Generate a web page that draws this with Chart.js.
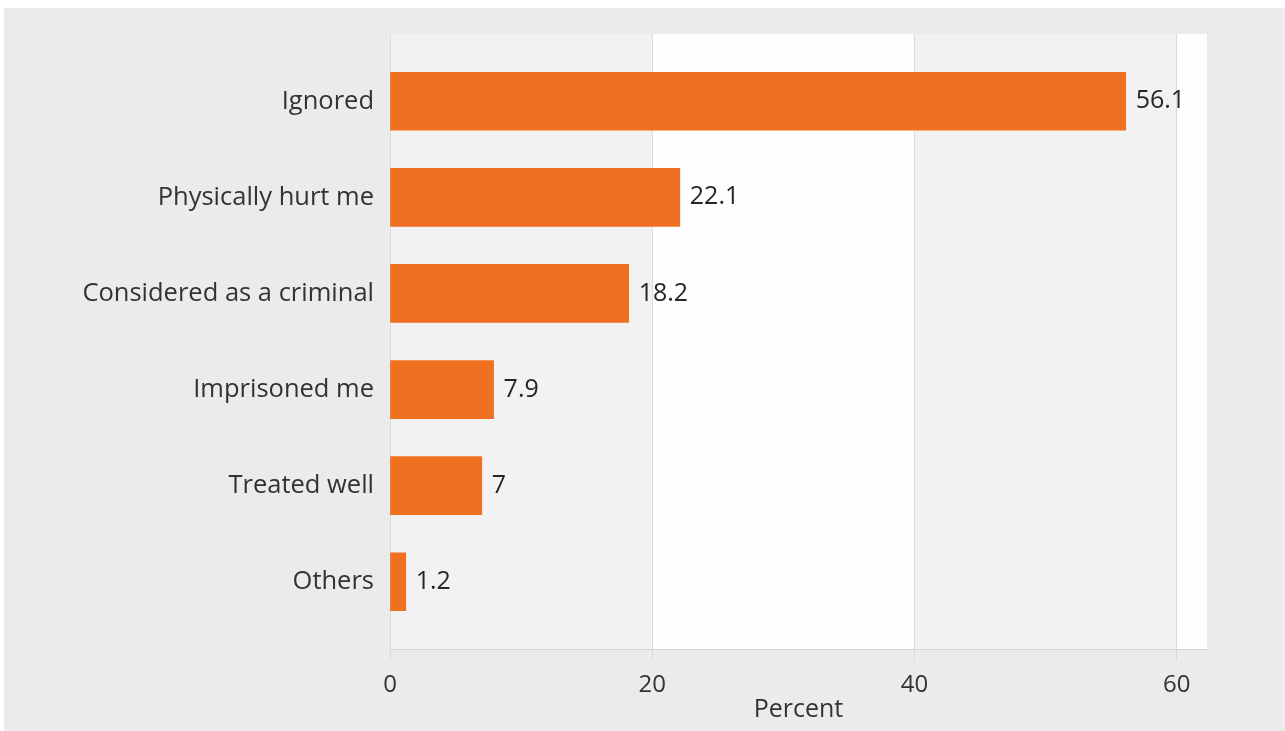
<!DOCTYPE html>
<html>
<head>
<meta charset="utf-8">
<script src="https://cdn.jsdelivr.net/npm/chart.js@4.4.1/dist/chart.umd.min.js"></script>
<style>
  html, body { margin: 0; padding: 0; background: #ffffff; }
  #wrap { position: absolute; left: 4px; top: 8px; width: 1281px; height: 723px; background: #ebebeb; }
  canvas { display: block; }
</style>
</head>
<body>
<div id="wrap"><canvas id="c" width="1281" height="723"></canvas></div>
<script>
const categories = ["Ignored", "Physically hurt me", "Considered as a criminal", "Imprisoned me", "Treated well", "Others"];
const values = [56.1, 22.1, 18.2, 7.9, 7, 1.2];
const xTicks = [0, 20, 40, 60];
const axisTitle = "Percent";

const FONT = "'Open Sans', 'Noto Sans', sans-serif";

const bandsPlugin = {
  id: 'bands',
  beforeDraw(chart) {
    const { ctx, chartArea: a, scales: { x } } = chart;
    const edges = xTicks.concat([x.max]);
    const cols = ['#f2f2f2', '#fefefe'];
    ctx.save();
    for (let i = 0; i < edges.length - 1; i++) {
      const x0 = x.getPixelForValue(edges[i]);
      const x1 = x.getPixelForValue(edges[i + 1]);
      ctx.fillStyle = cols[i % 2];
      ctx.fillRect(x0, a.top, x1 - x0, a.bottom - a.top);
    }
    ctx.restore();
  }
};

const valueLabels = {
  id: 'valueLabels',
  afterDatasetsDraw(chart) {
    const { ctx } = chart;
    const meta = chart.getDatasetMeta(0);
    ctx.save();
    ctx.font = "25px " + FONT;
    ctx.fillStyle = '#262626';
    ctx.textAlign = 'left';
    ctx.textBaseline = 'middle';
    meta.data.forEach((bar, i) => {
      ctx.fillText(String(values[i]), bar.x + 10, bar.y);
    });
    ctx.restore();
  }
};

new Chart(document.getElementById('c'), {
  type: 'bar',
  data: {
    datasets: [{
      data: values.map((v, i) => ({ x: v, y: i })),
      backgroundColor: '#f07022',
      borderWidth: 0,
      barThickness: 58
    }]
  },
  options: {
    indexAxis: 'y',
    responsive: false,
    animation: false,
    devicePixelRatio: 1,
    layout: { padding: { top: 26, right: 78, left: 0, bottom: 0 } },
    plugins: { legend: { display: false }, tooltip: { enabled: false } },
    scales: {
      x: {
        type: 'linear',
        min: 0,
        max: 62.3,
        offset: false,
        afterFit(s) { s.height = 82; s.paddingLeft = 0; s.paddingRight = 0; },
        afterBuildTicks(s) { s.ticks = xTicks.map(v => ({ value: v })); },
        ticks: { font: { family: FONT, size: 24 }, color: '#333333', padding: 10, maxRotation: 0 },
        grid: { color: '#dcdcdc', lineWidth: 1, drawTicks: true, tickLength: 12, tickColor: '#dcdcdc', offset: false },
        border: { display: true, color: '#d4d4d4' },
        title: { display: true, text: axisTitle, font: { family: FONT, size: 25 }, color: '#333333', padding: { top: 0, bottom: 6 } }
      },
      y: {
        type: 'linear',
        min: -0.7,
        max: 5.7,
        reverse: true,
        offset: false,
        afterFit(s) { s.width = 386; s.paddingTop = 0; s.paddingBottom = 0; },
        afterBuildTicks(s) { s.ticks = categories.map((_, i) => ({ value: i })); },
        ticks: {
          autoSkip: false,
          font: { family: FONT, size: 25.5 },
          color: '#333333',
          padding: 16,
          callback: (v) => categories[v]
        },
        grid: { display: false, drawTicks: false, offset: false },
        border: { display: false }
      }
    }
  },
  plugins: [bandsPlugin, valueLabels]
});
</script>
</body>
</html>
